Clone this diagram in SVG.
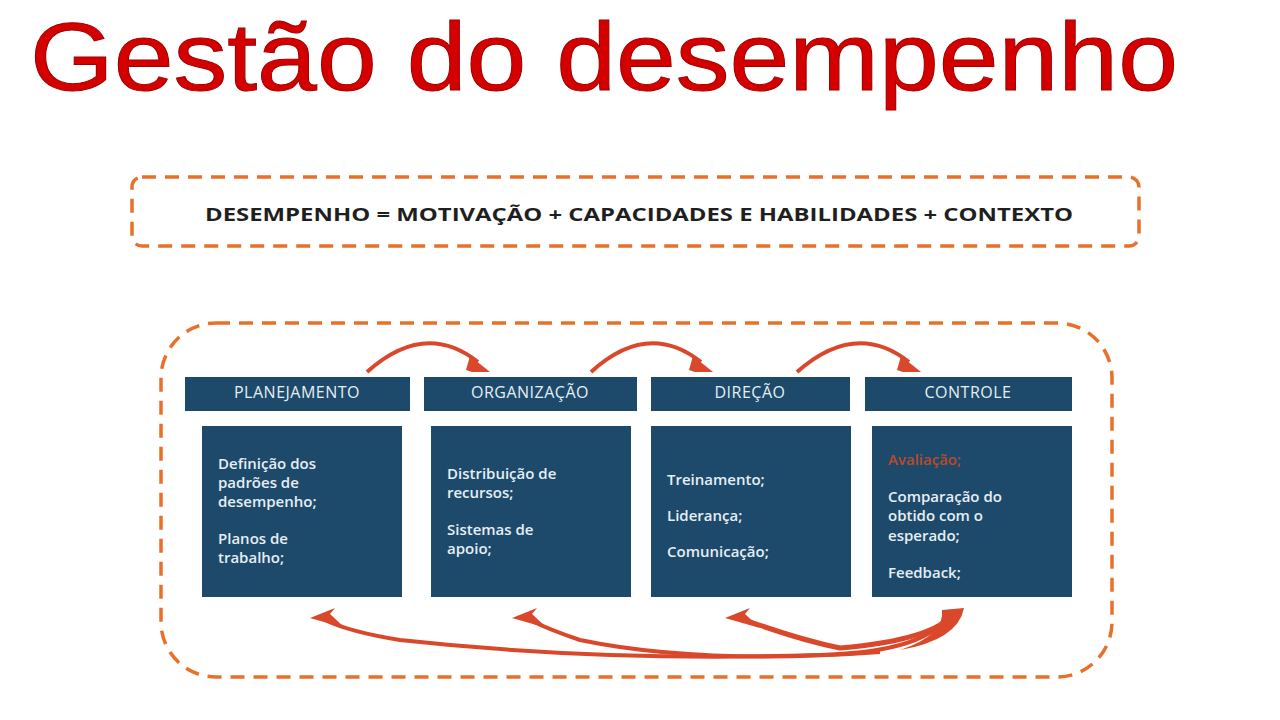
<svg xmlns="http://www.w3.org/2000/svg" width="1280" height="720" viewBox="0 0 1280 720">
<defs>
<style>
.hd{fill:#1d4a6a}
.ht{font-family:"Open Sans","Liberation Sans",sans-serif;font-size:16px;fill:#e6eef4;text-anchor:middle;letter-spacing:0.5px}
.bt{font-family:"Open Sans","Liberation Sans",sans-serif;font-size:15px;fill:#e6eef4;font-weight:600}
.dash{fill:none;stroke:#e8702a;stroke-width:3.5;stroke-dasharray:14 9}
.arc{fill:none;stroke:#d9482b;stroke-width:4}
.ah{fill:#d9482b}
</style>
</defs>
<rect width="1280" height="720" fill="#ffffff"/>
<text x="30" y="90" font-family="Liberation Sans, Arial, sans-serif" font-size="96" fill="#d40000" textLength="1148" lengthAdjust="spacingAndGlyphs" stroke="#a00000" stroke-width="1">Gestão do desempenho</text>
<g id="formula">
<rect class="dash" x="132" y="177" width="1007" height="69" rx="10"/>
<text x="205" y="221" font-family="Open Sans, Liberation Sans, sans-serif" font-size="18" font-weight="bold" fill="#1f1f1f" textLength="868" lengthAdjust="spacingAndGlyphs">DESEMPENHO = MOTIVAÇÃO + CAPACIDADES E HABILIDADES + CONTEXTO</text>
</g>
<g id="frame"><rect class="dash" x="161" y="323" width="951" height="354" rx="55"/></g>
<g id="planejamento">
<rect class="hd" x="185" y="377" width="225" height="34"/><text class="ht" x="297" y="398">PLANEJAMENTO</text>
<rect class="hd" x="202" y="426" width="200" height="171"/>
<text class="bt" x="218" y="469">Definição dos</text><text class="bt" x="218" y="488">padrões de</text><text class="bt" x="218" y="507">desempenho;</text>
<text class="bt" x="218" y="544">Planos de</text><text class="bt" x="218" y="563">trabalho;</text>
</g>
<g id="organizacao">
<rect class="hd" x="424" y="377" width="213" height="34"/><text class="ht" x="530" y="398">ORGANIZAÇÃO</text>
<rect class="hd" x="431" y="426" width="200" height="171"/>
<text class="bt" x="447" y="479">Distribuição de</text><text class="bt" x="447" y="498">recursos;</text>
<text class="bt" x="447" y="535">Sistemas de</text><text class="bt" x="447" y="554">apoio;</text>
</g>
<g id="direcao">
<rect class="hd" x="651" y="377" width="199" height="34"/><text class="ht" x="750" y="398">DIREÇÃO</text>
<rect class="hd" x="651" y="426" width="200" height="171"/>
<text class="bt" x="667" y="485">Treinamento;</text><text class="bt" x="667" y="521">Liderança;</text><text class="bt" x="667" y="557">Comunicação;</text>
</g>
<g id="controle">
<rect class="hd" x="865" y="377" width="207" height="34"/><text class="ht" x="968" y="398">CONTROLE</text>
<rect class="hd" x="872" y="426" width="200" height="171"/>
<text class="bt" x="888" y="465" style="fill:#b84a2a">Avaliação;</text>
<text class="bt" x="888" y="502">Comparação do</text><text class="bt" x="888" y="521">obtido com o</text><text class="bt" x="888" y="541">esperado;</text>
<text class="bt" x="888" y="578">Feedback;</text>
</g>
<g id="connectors">
<path class="arc" d="M367 372 Q425 320 478 362"/><polygon class="ah" points="470,356 490,372 472,372 466,370"/>
<path class="arc" d="M591 372 Q648 320 701 362"/><polygon class="ah" points="693,356 713,372 695,372 689,370"/>
<path class="arc" d="M797 372 Q856 320 909 362"/><polygon class="ah" points="901,356 921,372 903,372 897,370"/>
<path d="M950 612 Q930 652 820 655 Q600 662 400 640 Q350 632 325 620" fill="none" stroke="#d9482b" stroke-width="4"/>
<path d="M955 612 Q935 640 840 648 Q800 640 745 620" fill="none" stroke="#d9482b" stroke-width="5"/>
<path d="M880 652 Q700 665 580 640 Q550 630 530 620" fill="none" stroke="#d9482b" stroke-width="4"/>
<path d="M942 610 L964 608 Q958 640 900 650 Q945 635 942 610 Z" class="ah"/>
<polygon class="ah" points="310,618 335,608 330,614 345,628"/>
<polygon class="ah" points="512,618 537,608 532,614 547,628"/>
<polygon class="ah" points="725,618 750,608 745,614 760,628"/>
</g>
</svg>
